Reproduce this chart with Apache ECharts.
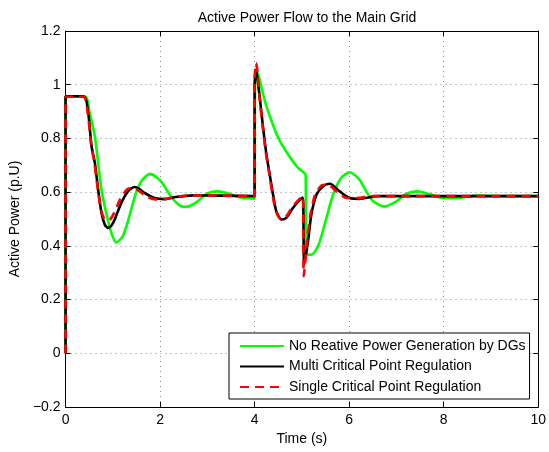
<!DOCTYPE html>
<html lang="en">
<head>
    <meta charset="UTF-8">
    <title>Active Power Flow to the Main Grid</title>
    <script src="https://cdn.jsdelivr.net/npm/echarts@6/dist/echarts.min.js"></script>
    <style>
        html, body { margin: 0; padding: 0; background: #fff; }
        #main { width: 549px; height: 452px; }
    </style>
</head>
<body>
<div id="main"></div>
<script type="text/javascript">
    // series names (legend)
    var seriesNames = ['No Reative Power Generation by DGs', 'Multi Critical Point Regulation', 'Single Critical Point Regulation'];

    // green: no reactive power generation
    var tGreen = [0, 0, 0.42, 0.51, 0.62, 0.69, 0.76, 0.86, 0.97, 1.07, 1.21, 1.35, 1.49, 1.63, 1.79, 2.02, 2.23, 2.42, 2.55, 2.75, 3.0, 3.21, 3.45, 3.7, 4.0,
        4.01, 4.06, 4.09, 4.22, 4.36, 4.5, 4.71, 4.92, 5.08, 5.09, 5.2, 5.3, 5.38, 5.52, 5.66, 5.83, 6.01, 6.22, 6.32, 6.5, 6.74, 7.0, 7.2, 7.44, 7.7, 8.0, 8.3, 8.7, 9.2, 10];
    var vGreen = [0, 0.955, 0.955, 0.895, 0.808, 0.709, 0.609, 0.523, 0.448, 0.413, 0.435, 0.51, 0.597, 0.647, 0.668, 0.64, 0.584, 0.55, 0.545, 0.56, 0.595, 0.603, 0.595, 0.58, 0.576,
        1.0, 1.045, 1.03, 0.938, 0.864, 0.802, 0.74, 0.69, 0.663, 0.373, 0.367, 0.385, 0.417, 0.504, 0.591, 0.653, 0.674, 0.647, 0.616, 0.568, 0.547, 0.566, 0.593, 0.603, 0.593, 0.578, 0.578, 0.587, 0.585, 0.585];

    // black: multi critical point regulation
    var tBlack = [0, 0, 0.39, 0.48, 0.55, 0.62, 0.69, 0.76, 0.83, 0.90, 0.97, 1.04, 1.18, 1.32, 1.46, 1.56, 1.67, 1.88, 2.09, 2.33, 2.7, 3.2, 4.0,
        4.0, 4.03, 4.07, 4.11, 4.18, 4.25, 4.32, 4.39, 4.46, 4.57, 4.67, 4.81, 4.96, 5.02, 5.05, 5.13, 5.2, 5.31, 5.45, 5.59, 5.8, 6.01, 6.22, 6.6, 10];
    var vBlack = [0, 0.957, 0.957, 0.895, 0.771, 0.709, 0.609, 0.523, 0.479, 0.467, 0.475, 0.498, 0.56, 0.603, 0.619, 0.612, 0.597, 0.578, 0.574, 0.582, 0.588, 0.587, 0.585,
        1.0, 1.056, 1.01, 0.951, 0.839, 0.74, 0.665, 0.591, 0.528, 0.498, 0.504, 0.541, 0.572, 0.58, 0.33, 0.417, 0.516, 0.591, 0.622, 0.631, 0.603, 0.578, 0.575, 0.585, 0.585];

    // red: single critical point regulation
    var tRed = [0, 0, 0.38, 0.47, 0.54, 0.61, 0.68, 0.75, 0.82, 0.88, 0.95, 1.02, 1.16, 1.3, 1.42, 1.55, 1.7, 1.9, 2.1, 2.4, 3.0, 4.0,
        4.0, 4.03, 4.06, 4.1, 4.17, 4.24, 4.31, 4.38, 4.45, 4.55, 4.65, 4.8, 4.95, 5.02, 5.04, 5.1, 5.18, 5.28, 5.42, 5.55, 5.75, 5.95, 6.15, 6.5, 10];
    var vRed = [0, 0.955, 0.955, 0.895, 0.78, 0.71, 0.615, 0.535, 0.5, 0.494, 0.5, 0.52, 0.575, 0.61, 0.617, 0.605, 0.585, 0.573, 0.575, 0.585, 0.588, 0.585,
        1.02, 1.081, 1.05, 0.96, 0.845, 0.745, 0.668, 0.59, 0.53, 0.5, 0.505, 0.545, 0.575, 0.585, 0.287, 0.4, 0.515, 0.59, 0.625, 0.628, 0.6, 0.578, 0.578, 0.585, 0.585];

    var xTicks = [0, 2, 4, 6, 8, 10];
    var yTicks = [-0.2, 0, 0.2, 0.4, 0.6, 0.8, 1, 1.2];

    function pairs(t, v) {
        var out = [];
        for (var i = 0; i < t.length; i++) {
            out.push([t[i], v[i]]);
        }
        return out;
    }

    function fmtY(v) {
        var r = Math.round(v * 10) / 10;
        return r < 0 ? '\u2212' + String(-r) : String(r);
    }

    var font = 'Liberation Sans, Arial, Helvetica, sans-serif';
    var gridLine = {show: true, lineStyle: {color: '#8a8a8a', width: 1, type: [1, 4]}};

    var myChart = echarts.init(document.getElementById('main'), null, {renderer: 'canvas'});

    var option = {
        animation: false,
        backgroundColor: '#fff',
        textStyle: {fontFamily: font},
        title: {
            text: 'Active Power Flow to the Main Grid',
            left: 302,
            textAlign: 'center',
            top: 6,
            textStyle: {fontSize: 14, fontWeight: 'normal', color: '#000', fontFamily: font}
        },
        grid: {left: 64, right: 9, top: 31, bottom: 45, containLabel: false},
        legend: {
            left: 229,
            top: 333,
            orient: 'vertical',
            itemWidth: 44,
            itemHeight: 14,
            itemGap: 6.5,
            padding: [6, 4, 5, 10],
            backgroundColor: '#fff',
            borderColor: '#000',
            borderWidth: 1,
            borderRadius: 0,
            // hide the symbol in the middle of the legend line
            itemStyle: {opacity: 0, borderWidth: 0},
            textStyle: {fontSize: 14, color: '#000', fontFamily: font},
            data: seriesNames
        },
        xAxis: [{
            type: 'value',
            min: xTicks[0],
            max: xTicks[xTicks.length - 1],
            interval: 2,
            name: 'Time (s)',
            nameLocation: 'middle',
            nameGap: 23,
            nameTextStyle: {fontSize: 14, color: '#000', fontFamily: font},
            axisLine: {show: true, onZero: false, lineStyle: {color: '#000', width: 1}},
            axisTick: {show: true, inside: true, length: 5, lineStyle: {color: '#000'}},
            axisLabel: {fontSize: 14, color: '#000', margin: 6, fontFamily: font},
            splitLine: gridLine
        }, {
            type: 'value',
            position: 'top',
            min: xTicks[0],
            max: xTicks[xTicks.length - 1],
            interval: 2,
            axisLine: {show: true, onZero: false, lineStyle: {color: '#000', width: 1}},
            axisTick: {show: true, inside: true, length: 5, lineStyle: {color: '#000'}},
            axisLabel: {show: false},
            splitLine: {show: false}
        }],
        yAxis: [{
            type: 'value',
            min: yTicks[0],
            max: yTicks[yTicks.length - 1],
            interval: 0.2,
            name: 'Active Power (p.U)',
            nameLocation: 'middle',
            nameGap: 41,
            nameRotate: 90,
            nameTextStyle: {fontSize: 14, color: '#000', fontFamily: font},
            axisLine: {show: true, onZero: false, lineStyle: {color: '#000', width: 1}},
            axisTick: {show: true, inside: true, length: 5, lineStyle: {color: '#000'}},
            axisLabel: {fontSize: 14, color: '#000', margin: 5, formatter: fmtY, fontFamily: font},
            splitLine: gridLine
        }, {
            type: 'value',
            position: 'right',
            min: yTicks[0],
            max: yTicks[yTicks.length - 1],
            interval: 0.2,
            axisLine: {show: true, onZero: false, lineStyle: {color: '#000', width: 1}},
            axisTick: {show: true, inside: true, length: 5, lineStyle: {color: '#000'}},
            axisLabel: {show: false},
            splitLine: {show: false}
        }],
        series: [{
            name: seriesNames[0],
            type: 'line',
            showSymbol: false,
            symbol: 'none',
            smooth: 0.25,
            data: pairs(tGreen, vGreen),
            lineStyle: {color: '#00ff00', width: 2.6},
            itemStyle: {color: '#00ff00'},
            z: 2
        }, {
            name: seriesNames[1],
            type: 'line',
            showSymbol: false,
            symbol: 'none',
            smooth: 0.25,
            data: pairs(tBlack, vBlack),
            lineStyle: {color: '#000000', width: 2.6},
            itemStyle: {color: '#000000'},
            z: 3
        }, {
            name: seriesNames[2],
            type: 'line',
            showSymbol: false,
            symbol: 'none',
            smooth: 0.25,
            data: pairs(tRed, vRed),
            lineStyle: {color: '#ff0000', width: 2.6, type: [9, 6]},
            itemStyle: {color: '#ff0000'},
            z: 4
        }]
    };

    myChart.setOption(option);
</script>
</body>
</html>
